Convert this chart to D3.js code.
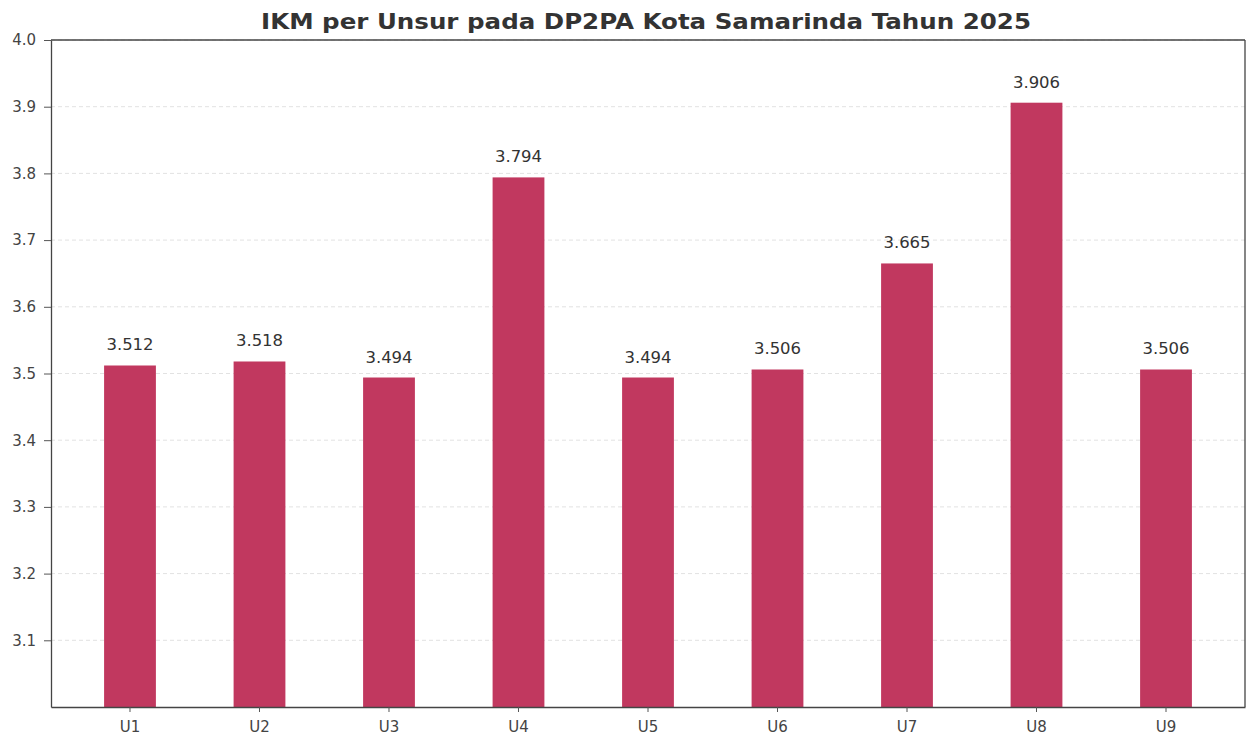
<!DOCTYPE html>
<html>
<head>
<meta charset="utf-8">
<script src="https://cdn.jsdelivr.net/npm/d3@7"></script>
<style>
  body { margin: 0; background: #fff; }
  svg { display: block; font-family: "DejaVu Sans", sans-serif; }
</style>
</head>
<body>
<svg id="chart" width="1246" height="739"></svg>
<script>
const categories = ['U1', 'U2', 'U3', 'U4', 'U5', 'U6', 'U7', 'U8', 'U9']
const values = [3.512, 3.518, 3.494, 3.794, 3.494, 3.506, 3.665, 3.906, 3.506]
const yTicks = [3.1, 3.2, 3.3, 3.4, 3.5, 3.6, 3.7, 3.8, 3.9, 4.0]
const title = 'IKM per Unsur pada DP2PA Kota Samarinda Tahun 2025'

const margin = { top: 40, right: 1, bottom: 32, left: 51 }
const width = 1246, height = 739

const svg = d3.select('#chart')

const x = d3.scaleBand()
  .domain(categories)
  .range([margin.left, width - margin.right])
  .paddingInner(0.6)
  .paddingOuter(0.41)

const y = d3.scaleLinear()
  .domain([3.0, 4.0])
  .range([height - margin.bottom, margin.top])

// grid lines
svg.append('g')
  .selectAll('line')
  .data(yTicks)
  .join('line')
  .attr('x1', margin.left)
  .attr('x2', width - margin.right)
  .attr('y1', d => y(d))
  .attr('y2', d => y(d))
  .attr('stroke', '#e2e2e2')
  .attr('stroke-width', 1)
  .attr('stroke-dasharray', '4,3')

// bars
svg.append('g')
  .selectAll('rect')
  .data(values)
  .join('rect')
  .attr('x', (d, i) => x(categories[i]))
  .attr('width', x.bandwidth())
  .attr('y', d => y(d))
  .attr('height', d => y(3.0) - y(d))
  .attr('fill', '#c1385f')

// value labels (scan is a bit stretched sideways, so widen glyphs a little)
svg.append('g')
  .selectAll('text')
  .data(values)
  .join('text')
  .attr('transform', (d, i) => `translate(${x(categories[i]) + x.bandwidth() / 2},${y(d) - 15}) scale(1.1,1)`)
  .attr('text-anchor', 'middle')
  .attr('font-size', 15)
  .attr('fill', '#333')
  .text(d => d.toFixed(3))

// axes
const xAxis = svg.append('g')
  .attr('transform', `translate(0,${height - margin.bottom})`)
  .call(d3.axisBottom(x).tickSize(5).tickSizeOuter(0).tickPadding(9))
const yAxis = svg.append('g')
  .attr('transform', `translate(${margin.left},0)`)
  .call(d3.axisLeft(y).tickValues(yTicks).tickFormat(d3.format('.1f')).tickSize(7).tickSizeOuter(0).tickPadding(8))

for (const ax of [xAxis, yAxis]) {
  ax.select('.domain').attr('stroke', '#444').attr('stroke-width', 1.3)
  ax.selectAll('.tick line').attr('stroke', '#555')
  ax.selectAll('.tick text')
    .attr('font-family', '"DejaVu Sans", sans-serif')
    .attr('font-size', 15)
    .attr('fill', '#444')
}

// top and right spines
svg.append('line')
  .attr('x1', margin.left).attr('x2', width - margin.right)
  .attr('y1', margin.top).attr('y2', margin.top)
  .attr('stroke', '#444').attr('stroke-width', 1.3)
svg.append('line')
  .attr('x1', width - margin.right).attr('x2', width - margin.right)
  .attr('y1', margin.top).attr('y2', height - margin.bottom)
  .attr('stroke', '#444').attr('stroke-width', 1.3)

svg.append('text')
  .attr('x', 646)
  .attr('y', 29)
  .attr('text-anchor', 'middle')
  .attr('font-size', 21)
  .attr('font-weight', 'bold')
  .attr('fill', '#333')
  .attr('textLength', 770)
  .attr('lengthAdjust', 'spacingAndGlyphs')
  .text(title)
</script>
</body>
</html>
